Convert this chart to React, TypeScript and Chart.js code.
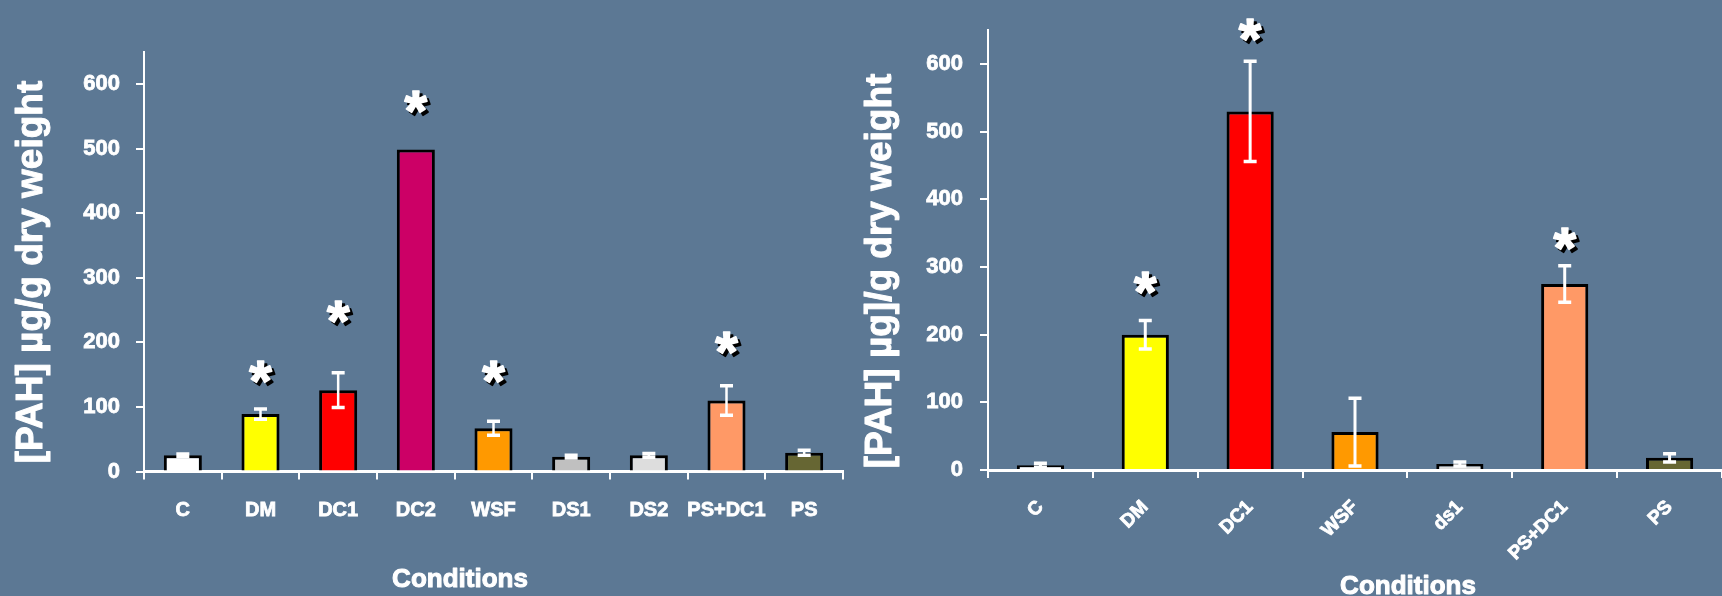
import { useEffect, useRef } from "react";
import { Chart, registerables } from "chart.js";

Chart.register(...registerables);

const FONT = '"Liberation Sans", Arial, sans-serif';
const BG = "#5C7894";
const WHITE = "#FFFFFF";

// Panel A: nine exposure conditions
const conditionsA = ["C", "DM", "DC1", "DC2", "WSF", "DS1", "DS2", "PS+DC1", "PS"];
const pahA = [25, 89, 126, 499, 67, 23, 25, 110, 29];
const errA = [2, 8, 27, 0, 11, 2, 3, 23, 4];
const starLevelA: (number | null)[] = [null, 160, 253, 578, 160, null, null, 204, null];
const colorsA = ["#FFFFFF", "#FFFF00", "#FF0000", "#CC0066", "#FF9900", "#C0C0C0", "#DDDDDD", "#FF9966", "#666633"];

// Panel B: seven exposure conditions
const conditionsB = ["C", "DM", "DC1", "WSF", "ds1", "PS+DC1", "PS"];
const pahB = [7, 200, 530, 56, 9, 275, 18];
const errB = [3, 21, 74, 50, 3, 27, 6];
const starLevelB: (number | null)[] = [null, 281, 655, null, null, 347, null];
const colorsB = ["#FFFFFF", "#FFFF00", "#FF0000", "#FF9900", "#DDDDDD", "#FF9966", "#666633"];

// Shared value axis
const yMax = 650;
const yStep = 100;
const yLastTick = 600;

const yTitleA = "[PAH] µg/g dry weight";
const yTitleB = "[PAH] µg]/g dry weight";
const xTitle = "Conditions";

// White error bars with caps at both ends
const errorBarPlugin = {
  id: "errorBars",
  afterDatasetsDraw(chart: any, _args: any, opts: any) {
    const { ctx } = chart;
    const meta = chart.getDatasetMeta(0);
    const yScale = chart.scales.y;
    const values = chart.data.datasets[0].data as number[];
    const errs = opts.errors as number[];
    ctx.save();
    ctx.strokeStyle = WHITE;
    errs.forEach((e, i) => {
      if (!e) return;
      const x = meta.data[i].x;
      const top = yScale.getPixelForValue(values[i] + e);
      const bot = yScale.getPixelForValue(Math.max(values[i] - e, 0));
      const half = opts.capWidth / 2;
      ctx.lineWidth = opts.lineWidth;
      ctx.beginPath();
      ctx.moveTo(x, top);
      ctx.lineTo(x, bot);
      ctx.stroke();
      ctx.lineWidth = opts.capThickness;
      ctx.beginPath();
      ctx.moveTo(x - half, top);
      ctx.lineTo(x + half, top);
      ctx.moveTo(x - half, bot);
      ctx.lineTo(x + half, bot);
      ctx.stroke();
    });
    ctx.restore();
  },
};

// Significance asterisks with a black drop shadow
const starPlugin = {
  id: "stars",
  afterDatasetsDraw(chart: any, _args: any, opts: any) {
    const { ctx } = chart;
    const meta = chart.getDatasetMeta(0);
    const yScale = chart.scales.y;
    const levels = opts.levels as (number | null)[];
    const size = opts.size as number;
    ctx.save();
    ctx.font = `bold ${size}px ${FONT}`;
    ctx.textAlign = "center";
    ctx.textBaseline = "alphabetic";
    ctx.lineJoin = "round";
    ctx.lineWidth = 1.5;
    levels.forEach((lv, i) => {
      if (lv == null) return;
      const x = meta.data[i].x;
      const yc = yScale.getPixelForValue(lv);
      const base = yc + size * 0.56;
      ctx.fillStyle = "#000000";
      ctx.strokeStyle = "#000000";
      ctx.fillText("*", x + 3, base + 3);
      ctx.strokeText("*", x + 3, base + 3);
      ctx.fillStyle = WHITE;
      ctx.strokeStyle = WHITE;
      ctx.fillText("*", x, base);
      ctx.strokeText("*", x, base);
    });
    ctx.restore();
  },
};

// Axis titles placed on the canvas
const titlePlugin = {
  id: "panelTitles",
  afterDraw(chart: any, _args: any, opts: any) {
    const { ctx } = chart;
    ctx.save();
    ctx.fillStyle = WHITE;
    ctx.strokeStyle = WHITE;
    ctx.lineWidth = 1;
    ctx.lineJoin = "round";
    ctx.textAlign = "center";
    ctx.textBaseline = "middle";
    ctx.font = `bold ${opts.ySize}px ${FONT}`;
    ctx.translate(opts.yX, opts.yY);
    ctx.rotate(-Math.PI / 2);
    ctx.fillText(opts.yText, 0, 0);
    ctx.strokeText(opts.yText, 0, 0);
    ctx.restore();
    ctx.save();
    ctx.fillStyle = WHITE;
    ctx.strokeStyle = WHITE;
    ctx.lineWidth = 1;
    ctx.lineJoin = "round";
    ctx.textAlign = "center";
    ctx.textBaseline = "middle";
    ctx.font = `bold ${opts.xSize}px ${FONT}`;
    ctx.fillText(opts.xText, opts.xX, opts.xY);
    ctx.strokeText(opts.xText, opts.xX, opts.xY);
    ctx.restore();
  },
};

type PanelSpec = {
  labels: string[];
  values: number[];
  errors: number[];
  stars: (number | null)[];
  colors: string[];
  barPct: number;
  padTop: number;
  padRight: number;
  yWidth: number;
  xHeight: number;
  xRotation: number;
  xFontSize: number;
  xPadding: number;
  yPadding: number;
  errLine: number;
  titles: any;
};

function makeConfig(p: PanelSpec): any {
  return {
    type: "bar",
    data: {
      labels: p.labels,
      datasets: [
        {
          data: p.values,
          backgroundColor: p.colors,
          borderColor: "#000000",
          borderWidth: 3,
          borderSkipped: "start",
          barPercentage: p.barPct,
          categoryPercentage: 1,
        },
      ],
    },
    options: {
      responsive: false,
      animation: false,
      devicePixelRatio: 1,
      layout: { padding: { top: p.padTop, right: p.padRight, left: 0, bottom: 0 } },
      plugins: {
        legend: { display: false },
        tooltip: { enabled: false },
        errorBars: { errors: p.errors, lineWidth: p.errLine, capWidth: 13, capThickness: 3.5 },
        stars: { levels: p.stars, size: 58 },
        panelTitles: p.titles,
      },
      scales: {
        x: {
          z: 1,
          offset: true,
          grid: {
            offset: true,
            drawOnChartArea: false,
            color: WHITE,
            lineWidth: 2,
            tickLength: 8,
          },
          border: { color: WHITE, width: 3 },
          ticks: {
            color: WHITE,
            font: { family: FONT, size: p.xFontSize, weight: "bold" },
            textStrokeColor: WHITE,
            textStrokeWidth: 0.8,
            maxRotation: p.xRotation,
            minRotation: p.xRotation,
            autoSkip: false,
            padding: p.xPadding,
          },
          afterFit: (s: any) => {
            s.height = p.xHeight;
          },
        },
        y: {
          min: 0,
          max: yMax,
          ticks: {
            stepSize: yStep,
            color: WHITE,
            font: { family: FONT, size: 22, weight: "bold" },
            textStrokeColor: WHITE,
            textStrokeWidth: 0.8,
            padding: p.yPadding,
          },
          afterBuildTicks: (s: any) => {
            s.ticks = s.ticks.filter((t: any) => t.value <= yLastTick);
          },
          grid: {
            drawOnChartArea: false,
            color: WHITE,
            lineWidth: 2,
            tickLength: 8,
          },
          border: { color: WHITE, width: 2 },
          afterFit: (s: any) => {
            s.width = p.yWidth;
          },
        },
      },
    },
    plugins: [errorBarPlugin, starPlugin, titlePlugin],
  };
}

function Panel({ spec, width, left }: { spec: PanelSpec; width: number; left: number }) {
  const ref = useRef<HTMLCanvasElement | null>(null);
  useEffect(() => {
    if (!ref.current) return;
    const chart = new Chart(ref.current, makeConfig(spec));
    return () => chart.destroy();
  }, [spec]);
  return (
    <canvas
      ref={ref}
      width={width}
      height={596}
      style={{ position: "absolute", left, top: 0, width, height: 596 }}
    />
  );
}

const specA: PanelSpec = {
  labels: conditionsA,
  values: pahA,
  errors: errA,
  stars: starLevelA,
  colors: colorsA,
  barPct: 0.49,
  padTop: 52,
  padRight: 17,
  yWidth: 144,
  xHeight: 124.5,
  xRotation: 0,
  xFontSize: 20,
  xPadding: 19,
  yPadding: 16,
  errLine: 2.5,
  titles: { yText: yTitleA, ySize: 37, yX: 32, yY: 272, xText: xTitle, xSize: 26, xX: 460, xY: 580 },
};

const specB: PanelSpec = {
  labels: conditionsB,
  values: pahB,
  errors: errB,
  stars: starLevelB,
  colors: colorsB,
  barPct: 0.45,
  padTop: 30,
  padRight: 0,
  yWidth: 128,
  xHeight: 126,
  xRotation: 45,
  xFontSize: 19,
  xPadding: 18,
  yPadding: 17,
  errLine: 3,
  titles: { yText: yTitleB, ySize: 37, yX: 21, yY: 271, xText: xTitle, xSize: 26, xX: 548, xY: 587 },
};

export default function App() {
  return (
    <div
      style={{
        position: "fixed",
        left: 0,
        top: 0,
        width: 1722,
        height: 596,
        background: BG,
        overflow: "hidden",
      }}
    >
      <Panel spec={specA} width={860} left={0} />
      <Panel spec={specB} width={862} left={860} />
    </div>
  );
}
